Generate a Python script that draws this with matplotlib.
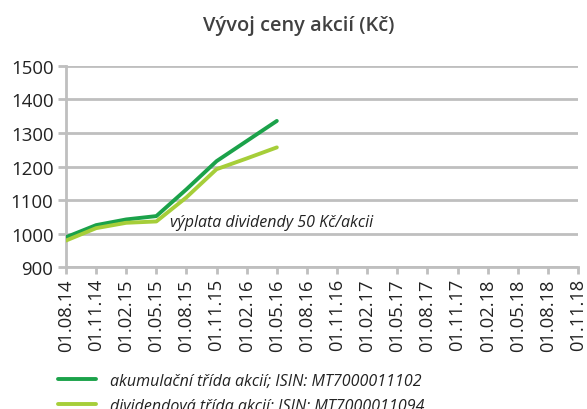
import matplotlib
matplotlib.use("Agg")
import matplotlib.pyplot as plt

plt.rcParams['font.family'] = ['Open Sans', 'DejaVu Sans']

# quarterly dates shown on the category axis
dates = ['01.08.14', '01.11.14', '01.02.15', '01.05.15', '01.08.15', '01.11.15',
         '01.02.16', '01.05.16', '01.08.16', '01.11.16', '01.02.17', '01.05.17',
         '01.08.17', '01.11.17', '01.02.18', '01.05.18', '01.08.18', '01.11.18']

# share prices (CZK), only first 8 quarters have data
akumulacni = [989, 1025, 1042, 1052, 1132, 1216, 1276, 1336]
dividendova = [979, 1016, 1032, 1036, 1108, 1192, 1224, 1257]

label_akum = 'akumulační třída akcií; ISIN: MT7000011102'
label_div = 'dividendová třída akcií; ISIN: MT7000011094'

dark_green = '#1ba24a'
light_green = '#a6ce39'
grid_col = '#bfbfbf'
text_col = '#404040'

fig = plt.figure(figsize=(5.87, 4.10), dpi=100)
ax = fig.add_axes([0.1124, 0.3463, 0.8723, 0.4903])

x = list(range(len(dates)))
ax.plot(x[:len(akumulacni)], akumulacni, color=dark_green, lw=2.8,
        label=label_akum, solid_capstyle='round', zorder=3)
ax.plot(x[:len(dividendova)], dividendova, color=light_green, lw=2.8,
        label=label_div, solid_capstyle='round', zorder=3)

ax.text(3.45, 1035, 'výplata dividendy 50 Kč/akcii', fontsize=11.5,
        style='italic', color='#222222', va='center', ha='left', zorder=4)

ax.set_xlim(0, len(dates) - 1)
ax.set_ylim(900, 1500)
ax.set_yticks(range(900, 1501, 100))
ax.set_xticks(x)
ax.set_xticklabels(dates, rotation=90, fontsize=13.2, color='#222222')
ax.tick_params(axis='y', labelsize=13.4, colors=grid_col, labelcolor='#222222',
               length=6, width=2, pad=3)
ax.tick_params(axis='x', colors=grid_col, labelcolor='#222222',
               length=5, width=2, pad=3)

ax.grid(axis='y', color=grid_col, lw=2)
ax.set_axisbelow(True)
for s in ['top', 'right']:
    ax.spines[s].set_visible(False)
ax.spines['left'].set_color(grid_col)
ax.spines['left'].set_linewidth(2)
ax.spines['bottom'].set_color(grid_col)
ax.spines['bottom'].set_linewidth(2)

fig.text(0.509, 0.937, 'Vývoj ceny akcií (Kč)', ha='center', va='center',
         fontsize=14.4, fontweight='semibold', color=text_col)

fig.legend(loc='upper left', bbox_to_anchor=(0.0988, 0.089),
           bbox_transform=fig.transFigure, frameon=False,
           prop={'style': 'italic', 'size': 11.5}, labelcolor='#222222',
           handlelength=2.4, handletextpad=0.875, labelspacing=0.56,
           borderaxespad=0, borderpad=0)

fig.savefig('out.png', dpi=100)
